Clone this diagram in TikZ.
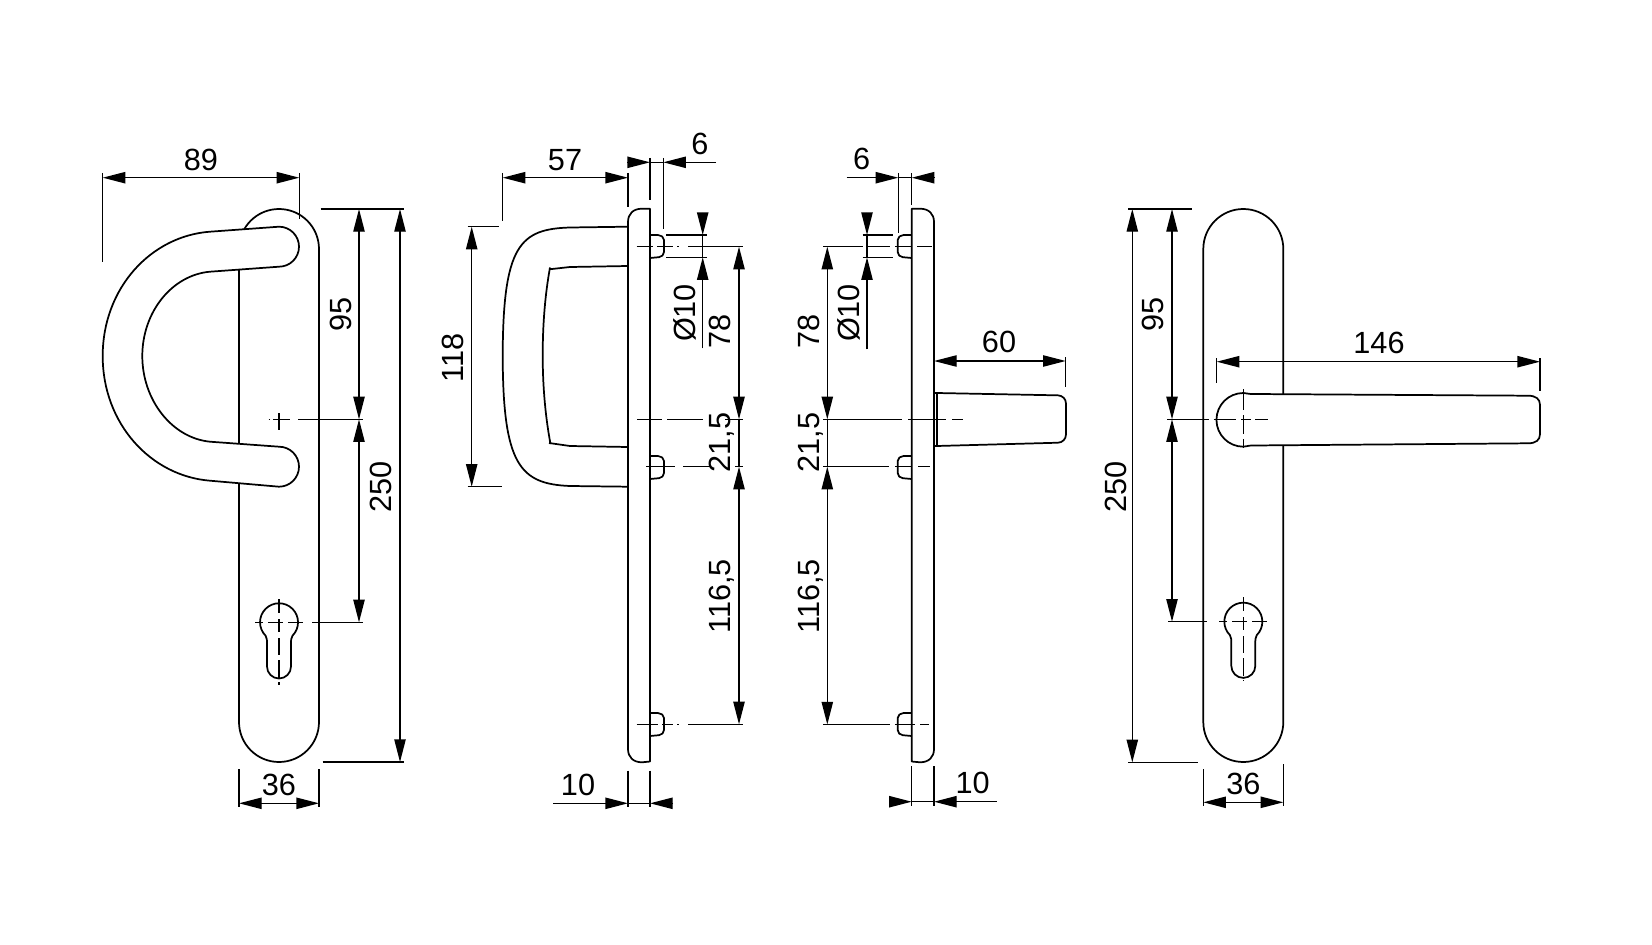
\documentclass[tikz,border=0pt]{standalone}
\usepackage{fontspec}
\setmainfont{Liberation Sans}
\usetikzlibrary{arrows.meta}

\tikzset{every picture/.style={line width=1pt},
  outline/.style={line width=1.3pt,line join=round},
  solid fill/.style={outline,fill=white},
  dimline/.style={line width=1pt,{Triangle[length=17pt,width=8.5pt]}-{Triangle[length=17pt,width=8.5pt]}},
  dimend/.style={line width=1pt,-{Triangle[length=17pt,width=8.5pt]}},
  extline/.style={line width=1pt},
  cline/.style={line width=1pt},
  dimtext/.style={inner sep=0pt,font=\fontsize{23}{24}\selectfont,text height=16.5pt,text depth=0pt},
  vtext/.style={dimtext,rotate=90}}

\begin{document}
\begin{tikzpicture}[x=0.75pt,y=0.75pt,yscale=-1,xscale=1]
\useasboundingbox (0,0) rectangle (1652,945);

%%%% front view, pull handle
%Shape: Plate
\draw [outline] (239,249) arc[start angle=180,end angle=360,radius=40] -- (319,722) arc[start angle=0,end angle=180,radius=40] -- cycle ;
%Shape: Handle
\draw [solid fill] (279,226.7) arc[start angle=-90,end angle=90,radius=20] -- (210,271.7) .. controls (172,275) and (142.3,312) .. (142.3,356) .. controls (142.3,400) and (172,438) .. (210,441.7) -- (279,446.7) arc[start angle=-90,end angle=90,radius=20] -- (210,480.7) .. controls (151,476) and (102.7,424) .. (102.7,356) .. controls (102.7,288) and (151,236) .. (210,231.7) -- cycle ;
%Shape: Keyhole
\draw [outline] (265.6,635.7) arc[start angle=135,end angle=405,radius=19] .. controls (291,638) and (291,640) .. (291,645) -- (291,666.5) arc[start angle=0,end angle=180,radius=12] -- (267,645) .. controls (267,640) and (267,638) .. (265.6,635.7) -- cycle ;
%Center Lines
\draw [cline,dash pattern={on 6pt off 3.75pt on 11.25pt off 3.75pt on 11.25pt}] (255,622.3) -- (303,622.3) ;
\draw [cline,dash pattern={on 10.5pt off 4.5pt on 9.75pt off 4.5pt on 12.75pt off 3.75pt on 13.5pt off 3pt on 2.25pt}] (279,599) -- (279,686) ;
\draw [cline] (279,413) -- (279,429.6) ;
\draw [cline] (273,419.3) -- (290,419.3) ;
\draw [cline] (268.5,419.3) -- (270,419.3) ;
%Straight Lines
\draw [extline] (102.7,173) -- (102.7,261.7) ;
\draw [extline] (299.3,173) -- (299.3,219.3) ;
\draw [extline] (320.7,209) -- (404,209) ;
\draw [extline] (298,419.3) -- (363,419.3) ;
\draw [extline] (312,622.3) -- (363,622.3) ;
\draw [extline] (322.7,762) -- (404,762) ;
\draw [extline] (239,769) -- (239,807) ;
\draw [extline] (319,769) -- (319,807) ;
%Dimension Lines
\draw [dimline] (102.7,177.7) -- (299.3,177.7) ;
\draw [dimline] (359,209) -- (359,419.3) ;
\draw [dimline] (359,419.3) -- (359,622.3) ;
\draw [dimline] (400,209) -- (400,762) ;
\draw [dimline] (239,803.3) -- (319,803.3) ;
% Text Node
\node (a89) [dimtext] at (201,159.3) {89};
\node (a95) [vtext] at (340,314) {95};
\node (a250) [vtext] at (380.5,487) {250};
\node (a36) [dimtext] at (279,784) {36};

%%%% side view, pull handle
%Shape: Plate
\draw [outline] (650,208.7) -- (642,208.7) .. controls (633,208.7) and (628,214) .. (628,222) -- (628,749) .. controls (628,757) and (633,762.3) .. (642,762.3) -- (650,761.5) -- cycle ;
%Shape: Handle
\draw [outline] (628,226.7) -- (570,227.5) .. controls (520,229) and (503,245) .. (502.7,356) .. controls (503,465) and (520,484) .. (570,486) -- (628,486.7) ;
\draw [outline] (628,266) -- (570,267) -- (552,269) -- (549,269) ;
\draw [outline] (550,267.5) .. controls (545,295) and (542.7,325) .. (542.7,355) .. controls (542.7,390) and (546,420) .. (550.5,444) ;
\draw [outline] (549,443) -- (570,446) -- (628,447) ;
%Shape: Pegs
\draw [outline,rounded corners=1.5pt] (650,235) -- (660,235) -- (664,238) -- (664,254) -- (661,257) -- (650,258) ;
\draw [outline,rounded corners=1.5pt] (650,456) -- (660,456) -- (664,459) -- (664,475) -- (661,478) -- (650,479) ;
\draw [outline,rounded corners=1.5pt] (650,713) -- (660,713) -- (664,716) -- (664,732) -- (661,735) -- (650,736) ;
%Center Lines
\draw [cline] (636.7,246.7) -- (653,246.7) ;
\draw [cline] (657,246.7) -- (672.7,246.7) ;
\draw [cline] (677.3,246.7) -- (679,246.7) ;
\draw [cline] (688,246.7) -- (743,246.7) ;
\draw [cline] (637,419.3) -- (662,419.3) ;
\draw [cline] (667,419.3) -- (703,419.3) ;
\draw [cline] (725,419.3) -- (743,419.3) ;
\draw [cline] (646,466.7) -- (675,466.7) ;
\draw [cline] (683,466.7) -- (710,466.7) ;
\draw [cline] (735,466.7) -- (743,466.7) ;
\draw [cline] (636.7,724.3) -- (658,724.3) ;
\draw [cline] (662,724.3) -- (672.7,724.3) ;
\draw [cline] (677,724.3) -- (679,724.3) ;
\draw [cline] (688,724.3) -- (743,724.3) ;
%Straight Lines
\draw [extline] (502.7,173) -- (502.7,220.7) ;
\draw [extline] (628,173) -- (628,206.7) ;
\draw [extline] (650,158) -- (650,200) ;
\draw [extline] (663.3,158) -- (663.3,229.3) ;
\draw [extline] (467.7,226.7) -- (499,226.7) ;
\draw [extline] (467.7,486.7) -- (501.7,486.7) ;
\draw [extline] (666,235) -- (707,235) ;
\draw [extline] (666,257.3) -- (707,257.3) ;
\draw [extline] (628,770.7) -- (628,806.7) ;
\draw [extline] (650,770.7) -- (650,806.7) ;
%Dimension Lines
\draw [dimline] (502.7,177.7) -- (628,177.7) ;
\draw [dimend] (627,162.3) -- (650,162.3) ;
\draw [dimend] (716,162.3) -- (663.3,162.3) ;
\draw [extline] (650,162.3) -- (663.3,162.3) ;
\draw [dimline] (471.7,226.7) -- (471.7,486.7) ;
\draw [dimend] (702.7,212.7) -- (702.7,235) ;
\draw [dimend] (702.7,348.3) -- (702.7,257.3) ;
\draw [extline] (702.7,235) -- (702.7,257.3) ;
\draw [dimline] (739,246.7) -- (739,419.3) ;
\draw [extline] (739,419.3) -- (739,466.7) ;
\draw [dimline] (739,466.7) -- (739,724.3) ;
\draw [dimend] (553.3,803.3) -- (628,803.3) ;
\draw [dimend] (673,803.3) -- (650,803.3) ;
\draw [extline] (628,803.3) -- (650,803.3) ;
% Text Node
\node (b57) [dimtext] at (565,159.3) {57};
\node (b6) [dimtext] at (700,144) {6};
\node (b118) [vtext] at (452.7,358) {118};
\node (b10d) [vtext] at (684,313) {Ø10};
\node (b78) [vtext] at (719,331.7) {78};
\node (b215) [vtext] at (719,442.7) {21,5};
\node (b1165) [vtext] at (719,596.5) {116,5};
\node (b10) [dimtext] at (578,784) {10};

%%%% side view, lever handle
%Shape: Plate
\draw [outline] (911.7,208.7) -- (920,208.7) .. controls (929,208.7) and (934,214) .. (934,222) -- (934,749) .. controls (934,757) and (929,762.3) .. (920,762.3) -- (911.7,761.5) -- cycle ;
%Shape: Lever
\draw [outline] (934,393) -- (936.7,393) -- (936.7,446) -- (934,446) ;
\draw [outline,rounded corners=6pt] (936.7,393) -- (1066,395.5) -- (1066,442.5) -- (936.7,446) ;
%Shape: Pegs
\draw [outline,rounded corners=1.5pt] (911.7,235) -- (901.7,235) -- (897.7,238) -- (897.7,254) -- (900.7,257) -- (911.7,258) ;
\draw [outline,rounded corners=1.5pt] (911.7,456) -- (901.7,456) -- (897.7,459) -- (897.7,475) -- (900.7,478) -- (911.7,479) ;
\draw [outline,rounded corners=1.5pt] (911.7,713) -- (901.7,713) -- (897.7,716) -- (897.7,732) -- (900.7,735) -- (911.7,736) ;
%Center Lines
\draw [cline] (823,246.7) -- (863,246.7) ;
\draw [cline] (868,246.7) -- (890,246.7) ;
\draw [cline] (895,246.7) -- (912,246.7) ;
\draw [cline] (917,246.7) -- (932,246.7) ;
\draw [cline] (823,419.3) -- (901.7,419.3) ;
\draw [cline] (908,419.3) -- (946,419.3) ;
\draw [cline] (952,419.3) -- (962.7,419.3) ;
\draw [cline] (823,466.7) -- (889,466.7) ;
\draw [cline] (895,466.7) -- (911.7,466.7) ;
\draw [cline] (918,466.7) -- (930,466.7) ;
\draw [cline] (823,724.5) -- (890,724.5) ;
\draw [cline] (895,724.5) -- (915,724.5) ;
\draw [cline] (920,724.5) -- (929,724.5) ;
%Straight Lines
\draw [extline] (898.3,173) -- (898.3,233) ;
\draw [extline] (911.7,173) -- (911.7,205) ;
\draw [extline] (862.7,235) -- (893.3,235) ;
\draw [extline] (862.7,257.3) -- (893.3,257.3) ;
\draw [extline] (1065.7,357) -- (1065.7,387) ;
\draw [extline] (911.7,766) -- (911.7,806) ;
\draw [extline] (934,766) -- (934,806) ;
%Dimension Lines
\draw [dimend] (846.7,177.7) -- (898.3,177.7) ;
\draw [dimend] (934.3,177.7) -- (911.7,177.7) ;
\draw [extline] (898.3,177.7) -- (911.7,177.7) ;
\draw [dimend] (867,212.7) -- (867,235) ;
\draw [dimend] (867,349.3) -- (867,257.3) ;
\draw [extline] (867,235) -- (867,257.3) ;
\draw [dimline] (827.3,246.7) -- (827.3,419.3) ;
\draw [extline] (827.3,419.3) -- (827.3,466.7) ;
\draw [dimline] (827.3,466.7) -- (827.3,724.5) ;
\draw [dimline] (934,361) -- (1065.7,361) ;
\draw [dimend] (889,801.7) -- (911.7,801.7) ;
\draw [dimend] (996.7,801.7) -- (934,801.7) ;
\draw [extline] (911.7,801.7) -- (934,801.7) ;
% Text Node
\node (c6) [dimtext] at (861.7,159) {6};
\node (c10d) [vtext] at (848,313) {Ø10};
\node (c78) [vtext] at (808,331.7) {78};
\node (c215) [vtext] at (808,442.7) {21,5};
\node (c1165) [vtext] at (808,596.5) {116,5};
\node (c60) [dimtext] at (999,341.7) {60};
\node (c10) [dimtext] at (972.7,782.7) {10};

%%%% front view, lever handle
%Shape: Plate
\draw [outline] (1203.3,249) arc[start angle=180,end angle=360,radius=40] -- (1283.3,722) arc[start angle=0,end angle=180,radius=40] -- cycle ;
%Shape: Lever
\draw [solid fill] (1243.3,393) .. controls (1246,393) and (1248,394) .. (1252,394) -- (1528,395.7) .. controls (1536,395.7) and (1540,399) .. (1540,405) -- (1540,434) .. controls (1540,440) and (1536,443.3) .. (1528,443.3) -- (1252,445.5) .. controls (1248,445.5) and (1246,446.7) .. (1243.3,446.7) arc[start angle=90,end angle=270,radius=26.85] -- cycle ;
%Shape: Keyhole
\draw [outline] (1229.9,635.1) arc[start angle=135,end angle=405,radius=19] .. controls (1255.3,637.4) and (1255.3,639.4) .. (1255.3,644.4) -- (1255.3,665.9) arc[start angle=0,end angle=180,radius=12] -- (1231.3,644.4) .. controls (1231.3,639.4) and (1231.3,637.4) .. (1229.9,635.1) -- cycle ;
%Center Lines
\draw [cline,dash pattern={on 6pt off 3.75pt on 11.25pt off 3.75pt on 11.25pt}] (1219.3,621.7) -- (1267.3,621.7) ;
\draw [cline,dash pattern={on 10.5pt off 4.5pt on 9.75pt off 4.5pt on 12.75pt off 3.75pt on 13.5pt off 3pt on 2.25pt}] (1243.3,597.3) -- (1243.3,681) ;
\draw [cline,dash pattern={on 16pt off 3.75pt on 14pt off 3.75pt on 14pt}] (1243.3,389) -- (1243.3,448) ;
\draw [cline] (1167.3,419.3) -- (1209.3,419.3) ;
\draw [cline] (1213.5,419.3) -- (1236,419.3) ;
\draw [cline] (1241,419.3) -- (1251,419.3) ;
\draw [cline] (1255,419.3) -- (1268.3,419.3) ;
%Straight Lines
\draw [extline] (1128.3,209) -- (1191.7,209) ;
\draw [extline] (1168.3,621.7) -- (1206.7,621.7) ;
\draw [extline] (1128.3,762.3) -- (1197.7,762.3) ;
\draw [extline] (1216.7,358) -- (1216.7,383.3) ;
\draw [extline] (1540,358) -- (1540,390.7) ;
\draw [extline] (1203.3,769) -- (1203.3,806) ;
\draw [extline] (1283.3,764) -- (1283.3,806) ;
%Dimension Lines
\draw [dimline] (1132.3,209) -- (1132.3,762.3) ;
\draw [dimline] (1172,209) -- (1172,419.3) ;
\draw [dimline] (1172,419.3) -- (1172,621.7) ;
\draw [dimline] (1216.7,361.7) -- (1540,361.7) ;
\draw [dimline] (1203.3,802.3) -- (1283.3,802.3) ;
% Text Node
\node (d95) [vtext] at (1152.3,314.3) {95};
\node (d250) [vtext] at (1115,487) {250};
\node (d146) [dimtext] at (1379,342.7) {146};
\node (d36) [dimtext] at (1243.3,783.3) {36};

\end{tikzpicture}
\end{document}
